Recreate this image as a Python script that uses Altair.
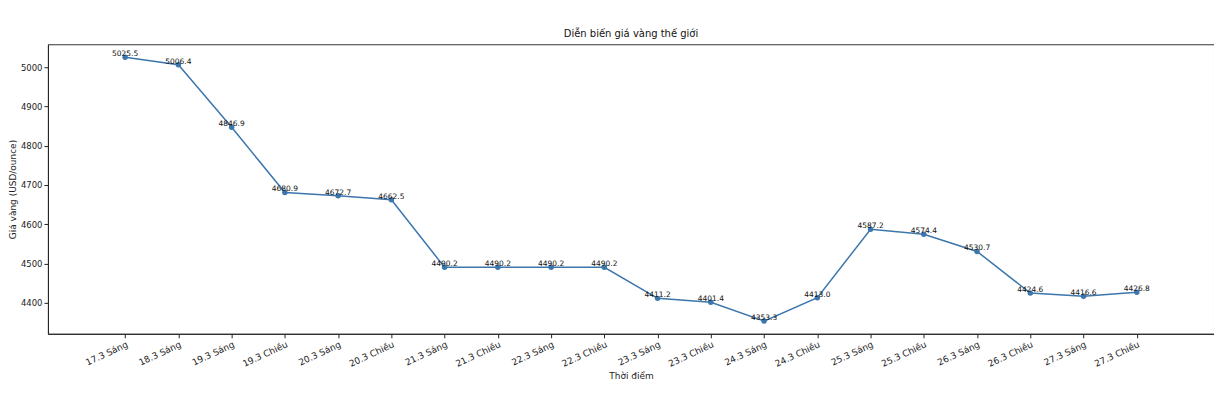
import altair as alt
import pandas as pd

labels = ["17.3 Sáng", "18.3 Sáng", "19.3 Sáng", "19.3 Chiều", "20.3 Sáng", "20.3 Chiều",
          "21.3 Sáng", "21.3 Chiều", "22.3 Sáng", "22.3 Chiều", "23.3 Sáng", "23.3 Chiều",
          "24.3 Sáng", "24.3 Chiều", "25.3 Sáng", "25.3 Chiều", "26.3 Sáng", "26.3 Chiều",
          "27.3 Sáng", "27.3 Chiều"]
prices = [5025.5, 5006.4, 4846.9, 4680.9, 4672.7, 4662.5, 4490.2, 4490.2, 4490.2, 4490.2,
          4411.2, 4401.4, 4353.3, 4413.0, 4587.2, 4574.4, 4530.7, 4424.6, 4416.6, 4426.8]
y_ticks = [4400, 4500, 4600, 4700, 4800, 4900, 5000]

df = pd.DataFrame({"i": list(range(len(labels))), "t": labels, "p": prices,
                   "txt": [f"{v:.1f}" for v in prices]})

FONT = "DejaVu Sans"
COLOR = "#3b76ad"
lab_js = "[" + ",".join(f"'{s}'" for s in labels) + "]"

x = alt.X("i:Q", title="Thời điểm",
          scale=alt.Scale(domain=[-1.45, 20.45], nice=False, zero=False),
          axis=alt.Axis(values=list(range(len(labels))), labelExpr=f"{lab_js}[datum.value]",
                        labelAngle=-25, labelAlign="right", labelBaseline="top",
                        labelFontSize=9, labelColor="#222", titleFontSize=9,
                        titleFontWeight="normal", titleColor="#222", tickColor="#222",
                        domainColor="#222", tickSize=4, labelPadding=2, titlePadding=3,
                        grid=False, labelFlush=False, labelOverlap=False))
y = alt.Y("p:Q", title="Giá vàng (USD/ounce)",
          scale=alt.Scale(domain=[4321, 5058.5], nice=False, zero=False),
          axis=alt.Axis(values=y_ticks, format="d",
                        labelFontSize=8.5, labelColor="#222", titleFontSize=9,
                        titleFontWeight="normal", titleColor="#222", tickColor="#222",
                        domainColor="#222", tickSize=4, labelPadding=2, grid=False,
                        titleX=-39, titleBaseline="top", titleAngle=-90))

base = alt.Chart(df)
line = base.mark_line(color=COLOR, strokeWidth=1.5).encode(x=x, y=y)
pts = base.mark_circle(color=COLOR, size=30, opacity=1).encode(x=x, y=y)
txt = base.mark_text(font=FONT, fontSize=7.5, color="#111", baseline="alphabetic", dy=-1).encode(
    x=x, y=y, text="txt:N")

chart = (line + pts + txt).properties(
    width=1168, height=290,
    title=alt.TitleParams("Diễn biến giá vàng thế giới", fontSize=10, fontWeight="normal",
                          font=FONT, color="#111", offset=5),
    autosize=alt.AutoSizeParams(type="none"),
    padding={"left": 40, "top": 36, "right": 0, "bottom": 60},
).configure(font=FONT).configure_view(stroke="#333", strokeWidth=1)

chart.save("out.html", embed_options={"renderer": "svg", "actions": False})
